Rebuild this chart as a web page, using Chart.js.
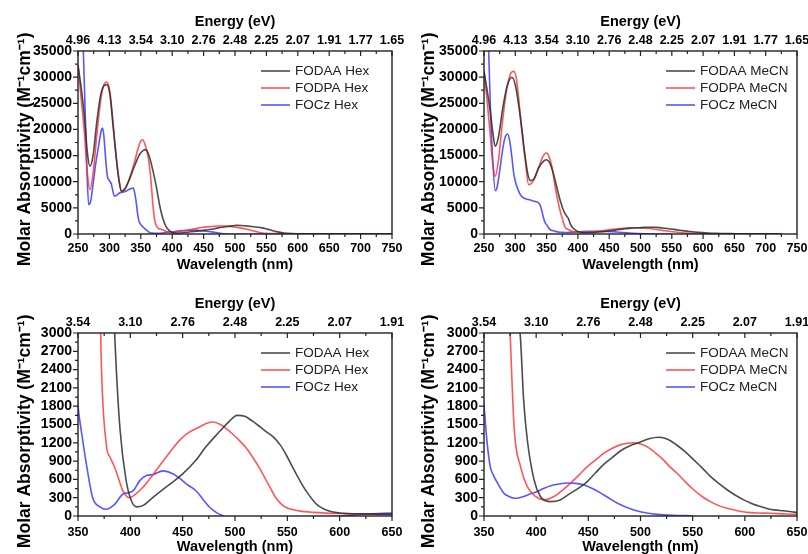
<!DOCTYPE html>
<html><head><meta charset="utf-8">
<script src="https://cdn.jsdelivr.net/npm/chart.js@4/dist/chart.umd.min.js"></script>
<style>
html,body{margin:0;padding:0;background:#fff;overflow:hidden;width:808px;height:554px}
.p{position:absolute}
canvas{display:block}
</style></head><body>
<div class="p" style="left:0;top:0"><canvas id="c1" width="404" height="277"></canvas></div>
<div class="p" style="left:404px;top:0"><canvas id="c2" width="404" height="277"></canvas></div>
<div class="p" style="left:0;top:277px"><canvas id="c3" width="404" height="290"></canvas></div>
<div class="p" style="left:404px;top:277px"><canvas id="c4" width="404" height="290"></canvas></div>
<script>
// ---- tick labels ----
const wlTicksFull = [250,300,350,400,450,500,550,600,650,700,750];
const evLabelsFull = ['4.96','4.13','3.54','3.10','2.76','2.48','2.25','2.07','1.91','1.77','1.65'];
const wlTicksZoom = [350,400,450,500,550,600,650];
const evLabelsZoom = ['3.54','3.10','2.76','2.48','2.25','2.07','1.91'];
const yTicksFull = [0,5000,10000,15000,20000,25000,30000,35000];
const yTicksZoom = [0,300,600,900,1200,1500,1800,2100,2400,2700,3000];
const namesHex = ['FODAA Hex','FODPA Hex','FOCz Hex'];
const namesMeCN = ['FODAA MeCN','FODPA MeCN','FOCz MeCN'];

// ---- series (wavelength nm, molar absorptivity) ----
const fodaaHexWl  = [250,255,260,265,269,274,280,286,291,296,301,306,311,315,319,325,332,340,348,354,358,363,368,374,380,385,390,396,401,406,412,420,430,440,450,462,472,485,495,502,510,517,524,530,537,543,549,555,562,568,578,590,600,625,650,700,750];
const fodaaHexVal = [32300,28000,22800,15500,12950,15000,21500,26500,28300,28560,26500,20500,14500,10500,8200,8700,10500,13000,15200,16000,16130,15000,12800,9500,5500,3000,1450,580,250,150,170,280,420,550,690,900,1130,1380,1560,1650,1630,1550,1460,1380,1290,1170,1000,800,580,410,190,80,50,35,30,30,30];

const fodpaHexWl  = [250,255,260,265,269,274,280,286,291,296,301,306,311,316,320,326,333,340,346,350,353,357,362,366,369,372,377,381,385,389,393,399,405,412,420,428,437,447,456,466,473,479,486,492,498,504,510,517,524,530,535,539,544,549,555,562,575,600,650,700,750];
const fodpaHexVal = [32300,26000,19700,11500,8480,11500,19000,25500,28500,29070,27000,21000,14500,9800,8030,8800,11000,13800,16500,17800,18040,17000,14500,10500,6000,2700,1180,950,800,600,410,300,360,470,640,825,1030,1240,1370,1460,1520,1540,1500,1430,1340,1240,1130,960,770,580,420,300,200,140,105,80,60,40,25,20,20];

const foczHexWl  = [255,258.5,261,264,267,270,274,278,283,287,289,291,293,295,297,300,303,305,308,311,316,321,326,331,335,338,340,342.5,345,347,350,354,358,364,371,377,385,393,398,403,409,415,422,431,441,447,454,463,470,476,482,489,498,520,550,575,600,625,650,700,750];
const foczHexVal = [45000,35000,25000,13000,5600,6200,9500,13250,17000,19800,20270,19000,16000,13000,10900,10200,9600,8500,7210,7400,7840,8000,8160,8500,8700,8800,8000,6250,3800,2500,1800,1300,850,300,150,110,190,360,380,420,580,660,680,740,690,620,520,410,260,140,60,0,-40,-45,-40,-20,0,30,50,45,40];

const fodaaMeCNWl  = [250,255,260,264,268,273,280,287,294.7,300,305,310,316,320,324,330,337,344,349.5,355,361,366.6,372,377,381,385,388,391.5,398,404,409,414,423,433,441,449,457,465,473,481,490,498,508,517.6,526,535,543,551,559,567,575,583,591,599,607,615,622,628,637,645,650,675,700,725];
const fodaaMeCNVal = [31100,27500,23400,19500,16770,18500,24100,28300,29970,28500,25000,20500,14540,11500,10200,10600,12600,13800,14210,13600,11500,8800,6300,4500,3600,2900,1900,1250,590,320,250,236,264,375,460,565,710,850,960,1070,1150,1200,1265,1290,1260,1160,1050,920,790,650,535,430,340,264,200,154,120,100,85,70,55,35,25,15];

const fodpaMeCNWl  = [250,255,260,264,268,273,279,286,292,297.4,302,307,312,316,321.4,330,337,344,349.5,354,359,364,369,373,375,379,385,391.5,399.5,407,417,425,433,441,449,457,465,473,481,487,493.6,500,506,514,522,528,535,543,551,559,567,575,583,592,602,612,624.5,637,650,700,725];
const fodpaMeCNVal = [31100,25500,19000,13500,11030,14000,20900,27500,30500,31120,29500,24000,18000,14000,9430,10400,12600,14800,15490,14800,12500,8800,5800,3800,3000,1420,810,480,320,264,320,420,540,670,810,920,1030,1110,1170,1190,1200,1180,1140,1040,920,810,700,560,430,320,236,170,126,90,60,50,44,35,27,15,10];

const foczMeCNWl  = [255,257.5,260,264,268,271,275,279,283,287.8,291,294.7,297,300,304,308,312,316,321,326.7,332,337.4,340,342.6,345,348,350,353,356,359.5,363,369,374,379,384,388,394,401,407,414,422,430,438,446,454,462,470,478,487,497,506,516,530,550];
const foczMeCNVal = [45000,35000,25000,14000,8290,9000,12000,15500,18200,19130,17800,14540,12000,10080,8600,7520,7000,6750,6600,6370,6200,5930,5400,4340,3100,2100,1800,1200,810,650,540,375,320,290,300,320,360,400,450,495,525,540,535,510,450,375,290,210,140,82,50,27,12,5];

const COLORS = ['rgba(45,45,45,0.85)','rgba(255,45,45,0.8)','rgba(45,45,255,0.8)'];
const FONT = '"Liberation Sans", Arial, Helvetica, sans-serif';

function series(wl, val) { return wl.map((w, i) => ({x: w, y: val[i]})); }
function makeSets(names, pairs) {
  return pairs.map((p, i) => ({
    label: names[i], data: series(p[0], p[1]),
    borderColor: COLORS[i], backgroundColor: COLORS[i],
    borderWidth: 1.6, pointRadius: 0, fill: false,
    cubicInterpolationMode: 'monotone'
  }));
}

const framePlugin = {
  id: 'frame',
  afterDraw(chart, args, opts) {
    const {ctx, chartArea: a, scales} = chart;
    const xs = scales.x, ys = scales.y;
    ctx.save();
    ctx.strokeStyle = '#222';
    ctx.lineWidth = 1.2;
    ctx.beginPath();
    const xt = opts.xTicks, xStep = xt[1] - xt[0];
    for (let v = xt[0]; v <= xt[xt.length - 1] + 1e-6; v += xStep / 2) {
      const px = xs.getPixelForValue(v);
      const major = Math.abs(((v - xt[0]) / xStep) - Math.round((v - xt[0]) / xStep)) < 1e-6;
      const len = major ? 5 : 3;
      ctx.moveTo(px, a.bottom); ctx.lineTo(px, a.bottom + len);
      ctx.moveTo(px, a.top); ctx.lineTo(px, a.top + len);
    }
    const yt = opts.yTicks, yStep = yt[1] - yt[0];
    for (let v = yt[0]; v <= yt[yt.length - 1] + 1e-6; v += yStep / 2) {
      const py = ys.getPixelForValue(v);
      const major = Math.abs(((v - yt[0]) / yStep) - Math.round((v - yt[0]) / yStep)) < 1e-6;
      const len = major ? 5 : 3;
      ctx.moveTo(a.left, py); ctx.lineTo(a.left - len, py);
    }
    ctx.stroke();
    ctx.lineWidth = 1.4;
    ctx.strokeRect(a.left, a.top, a.right - a.left, a.bottom - a.top);
    // legend
    ctx.font = '13.5px ' + FONT;
    ctx.textBaseline = 'middle';
    ctx.textAlign = 'left';
    chart.data.datasets.forEach((d, i) => {
      const y = a.top + 20 + i * 17;
      ctx.strokeStyle = d.borderColor;
      ctx.lineWidth = 1.6;
      ctx.beginPath();
      ctx.moveTo(a.right - 131, y); ctx.lineTo(a.right - 102, y);
      ctx.stroke();
      ctx.fillStyle = '#222';
      ctx.fillText(d.label, a.right - 97, y + 0.5);
    });
    ctx.restore();
  }
};

function makeChart(id, datasets, wlTicks, evLabels, yTicks, g) {
  const xmin = wlTicks[0], xmax = wlTicks[wlTicks.length - 1];
  const tickFontX = {family: FONT, size: 12.5, weight: 'bold'};
  const tickFontY = {family: FONT, size: 14, weight: 'bold'};
  const titleFont = {family: FONT, size: 14.5, weight: 'bold'};
  new Chart(document.getElementById(id), {
    type: 'line',
    data: {datasets},
    options: {
      responsive: false, animation: false, devicePixelRatio: 1,
      layout: {padding: {left: 0, right: g.padRight, top: 0, bottom: 0}},
      plugins: {legend: {display: false}, tooltip: {enabled: false},
        frame: {xTicks: wlTicks, yTicks: yTicks}},
      scales: {
        x: {
          type: 'linear', position: 'bottom', min: xmin, max: xmax,
          afterBuildTicks: s => { s.ticks = wlTicks.map(v => ({value: v})); },
          afterFit: s => { s.height = g.bottomH; s.paddingLeft = 0; s.paddingRight = 0; },
          grid: {display: false, drawTicks: false}, border: {display: false},
          ticks: {padding: g.xLabPad, font: tickFontX, color: '#000', maxRotation: 0, autoSkip: false,
            callback: (v) => String(v)},
          title: {display: true, text: 'Wavelength (nm)', font: titleFont, color: '#000',
            padding: {top: 0, bottom: g.xTitlePad}}
        },
        x2: {
          type: 'linear', position: 'top', min: xmin, max: xmax,
          afterBuildTicks: s => { s.ticks = wlTicks.map(v => ({value: v})); },
          afterFit: s => { s.height = g.topH; s.paddingLeft = 0; s.paddingRight = 0; },
          grid: {display: false, drawTicks: false}, border: {display: false},
          ticks: {padding: 2.5, font: tickFontX, color: '#000', maxRotation: 0, autoSkip: false,
            callback: (v, i) => evLabels[i]},
          title: {display: true, text: 'Energy (eV)', font: titleFont, color: '#000',
            padding: {top: g.x2TitlePad, bottom: 0}}
        },
        y: {
          type: 'linear', position: 'left', min: yTicks[0], max: yTicks[yTicks.length - 1],
          afterBuildTicks: s => { s.ticks = yTicks.map(v => ({value: v})); },
          afterFit: s => { s.width = g.leftW; s.paddingTop = 0; s.paddingBottom = 0; },
          grid: {display: false, drawTicks: false}, border: {display: false},
          ticks: {padding: 6, font: tickFontY, color: '#000', autoSkip: false,
            callback: (v) => String(v)},
          title: {display: true, text: 'Molar Absorptivity (M\u207B\u00B9cm\u207B\u00B9)\u2002 ',
            font: {family: FONT, size: 17.5, weight: 'bold'}, color: '#000',
            padding: {top: 14.5, bottom: 0}}
        }
      }
    },
    plugins: [framePlugin]
  });
}

const hexSets = () => makeSets(namesHex, [[fodaaHexWl, fodaaHexVal], [fodpaHexWl, fodpaHexVal], [foczHexWl, foczHexVal]]);
const mecnSets = () => makeSets(namesMeCN, [[fodaaMeCNWl, fodaaMeCNVal], [fodpaMeCNWl, fodpaMeCNVal], [foczMeCNWl, foczMeCNVal]]);

const gTop = {bottomH: 43, topH: 51, xLabPad: 7.5, xTitlePad: 3.3, x2TitlePad: 13.3};
const gBot = {bottomH: 51, topH: 56, xLabPad: 9.5, xTitlePad: 11.3, x2TitlePad: 18.3};

makeChart('c1', hexSets(), wlTicksFull, evLabelsFull, yTicksFull, Object.assign({leftW: 78, padRight: 12}, gTop));
makeChart('c2', mecnSets(), wlTicksFull, evLabelsFull, yTicksFull, Object.assign({leftW: 80, padRight: 11}, gTop));
makeChart('c3', hexSets(), wlTicksZoom, evLabelsZoom, yTicksZoom, Object.assign({leftW: 78, padRight: 12}, gBot));
makeChart('c4', mecnSets(), wlTicksZoom, evLabelsZoom, yTicksZoom, Object.assign({leftW: 80, padRight: 11}, gBot));
</script>
</body></html>
